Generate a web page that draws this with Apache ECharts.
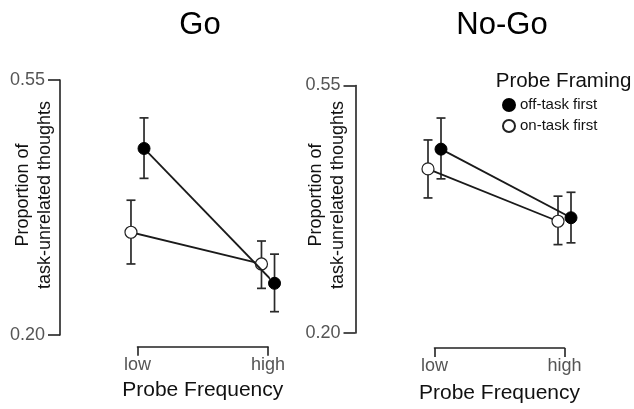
<!DOCTYPE html>
<html>
<head>
<meta charset="utf-8">
<script src="https://cdn.jsdelivr.net/npm/echarts@6/dist/echarts.min.js"></script>
<style>
html,body{margin:0;padding:0;background:#fff;}
#chart{width:634px;height:409px;}
</style>
</head>
<body>
<div id="chart"></div>
<script>
// ---- data ----
const categories = ['low', 'high'];
const yTicks = [0.20, 0.55];
const panelTitles = ['Go', 'No-Go'];
const seriesNames = ['off-task first', 'on-task first'];

const goOff = [0.456, 0.271];
const goOffLow = [0.415, 0.232];
const goOffHigh = [0.498, 0.311];
const goOn = [0.341, 0.2975];
const goOnLow = [0.2975, 0.264];
const goOnHigh = [0.385, 0.329];

const noGoOff = [0.460, 0.363];
const noGoOffLow = [0.418, 0.3275];
const noGoOffHigh = [0.504, 0.399];
const noGoOn = [0.432, 0.358];
const noGoOnLow = [0.391, 0.325];
const noGoOnHigh = [0.473, 0.3935];

// ---- chart ----
const FONT = 'Liberation Sans, Arial, Helvetica, sans-serif';
const DODGE = 0.05;
const AXIS_COLOR = '#222';

function pts(vals, shift) {
  return vals.map((v, i) => [i + shift, v]);
}
function errPts(lo, hi, shift) {
  return lo.map((l, i) => [i + shift, l, hi[i]]);
}
function errRender(params, api) {
  const x = api.value(0);
  const a = api.coord([x, api.value(1)]);
  const b = api.coord([x, api.value(2)]);
  const w = 4.5;
  const style = { stroke: '#2a2a2a', lineWidth: 1.7 };
  return {
    type: 'group',
    children: [
      { type: 'line', shape: { x1: a[0], y1: a[1], x2: b[0], y2: b[1] }, style },
      { type: 'line', shape: { x1: a[0] - w, y1: a[1], x2: a[0] + w, y2: a[1] }, style },
      { type: 'line', shape: { x1: b[0] - w, y1: b[1], x2: b[0] + w, y2: b[1] }, style }
    ]
  };
}

const panels = [
  { off: goOff, offLo: goOffLow, offHi: goOffHigh, on: goOn, onLo: goOnLow, onHi: goOnHigh },
  { off: noGoOff, offLo: noGoOffLow, offHi: noGoOffHigh, on: noGoOn, onLo: noGoOnLow, onHi: noGoOnHigh }
];

const grids = [
  { left: 137.5, width: 130.5, top: 80, height: 255 },
  { left: 434.5, width: 130, top: 85.5, height: 250.5 }
];
const yOffsets = [77.5, 79];
const xOffsets = [11.7, 15];
const nameGaps = [33, 35];

const xAxes = grids.map((g, i) => ({
  type: 'value', gridIndex: i, min: 0, max: 1, interval: 1,
  offset: xOffsets[i],
  splitLine: { show: false },
  axisLine: { show: true, onZero: false, lineStyle: { color: AXIS_COLOR, width: 1.6 } },
  axisTick: { show: true, length: 9, lineStyle: { color: AXIS_COLOR, width: 1.6 } },
  axisLabel: { formatter: v => categories[v], color: '#555', fontSize: 18, fontFamily: FONT, margin: 9 },
  name: 'Probe Frequency', nameLocation: 'middle', nameGap: nameGaps[i],
  nameTextStyle: { color: '#111', fontSize: 21, fontFamily: FONT }
}));

const yAxes = grids.map((g, i) => ({
  type: 'value', gridIndex: i, min: 0.2, max: 0.55,
  offset: yOffsets[i],
  splitLine: { show: false },
  axisLine: { show: true, onZero: false, lineStyle: { color: AXIS_COLOR, width: 1.6 } },
  axisTick: { show: true, length: 12, customValues: yTicks, lineStyle: { color: AXIS_COLOR, width: 1.6 } },
  axisLabel: { customValues: yTicks, formatter: v => v.toFixed(2), color: '#555', fontSize: 18, fontFamily: FONT, margin: 15 }
}));

const series = [];
panels.forEach((p, i) => {
  series.push({
    type: 'custom', xAxisIndex: i, yAxisIndex: i, renderItem: errRender,
    data: errPts(p.onLo, p.onHi, -DODGE), silent: true, z: 1
  });
  series.push({
    type: 'custom', xAxisIndex: i, yAxisIndex: i, renderItem: errRender,
    data: errPts(p.offLo, p.offHi, DODGE), silent: true, z: 1
  });
  series.push({
    name: seriesNames[1], type: 'line', xAxisIndex: i, yAxisIndex: i,
    data: pts(p.on, -DODGE), clip: false, symbol: 'circle', symbolSize: 12,
    lineStyle: { color: '#1a1a1a', width: 1.8 },
    itemStyle: { color: '#fff', borderColor: '#222', borderWidth: 1.2 },
    z: 3
  });
  series.push({
    name: seriesNames[0], type: 'line', xAxisIndex: i, yAxisIndex: i,
    data: pts(p.off, DODGE), clip: false, symbol: 'circle', symbolSize: 12,
    lineStyle: { color: '#1a1a1a', width: 1.8 },
    itemStyle: { color: '#000', borderColor: '#000', borderWidth: 1 },
    z: 4
  });
});

const yTitleX = [[23, 45], [316, 338]];
const graphics = [];
panelTitles.forEach((t, i) => {
  graphics.push({
    type: 'text', x: [200, 502][i], y: 25,
    style: { text: t, fontSize: 31, fontFamily: FONT, fill: '#000', align: 'center', verticalAlign: 'middle' }
  });
  ['Proportion of', 'task-unrelated thoughts'].forEach((line, j) => {
    graphics.push({
      type: 'text', x: yTitleX[i][j], y: 195, rotation: Math.PI / 2,
      style: { text: line, fontSize: 18, fontFamily: FONT, fill: '#111', align: 'center', verticalAlign: 'middle' }
    });
  });
});
graphics.push({
  type: 'text', x: 563.5, y: 81,
  style: { text: 'Probe Framing', fontSize: 20.5, fontFamily: FONT, fill: '#111', align: 'center', verticalAlign: 'middle' }
});

const chart = echarts.init(document.getElementById('chart'), null, { renderer: 'canvas' });
chart.setOption({
  animation: false,
  backgroundColor: '#fff',
  grid: grids,
  xAxis: xAxes,
  yAxis: yAxes,
  legend: {
    data: seriesNames, orient: 'vertical', left: 497, top: 92,
    icon: 'circle', itemWidth: 12, itemHeight: 12, itemGap: 5,
    textStyle: { fontSize: 15, fontFamily: FONT, color: '#111', lineHeight: 16 },
    selectedMode: false
  },
  graphic: graphics,
  series: series
});
</script>
</body>
</html>
